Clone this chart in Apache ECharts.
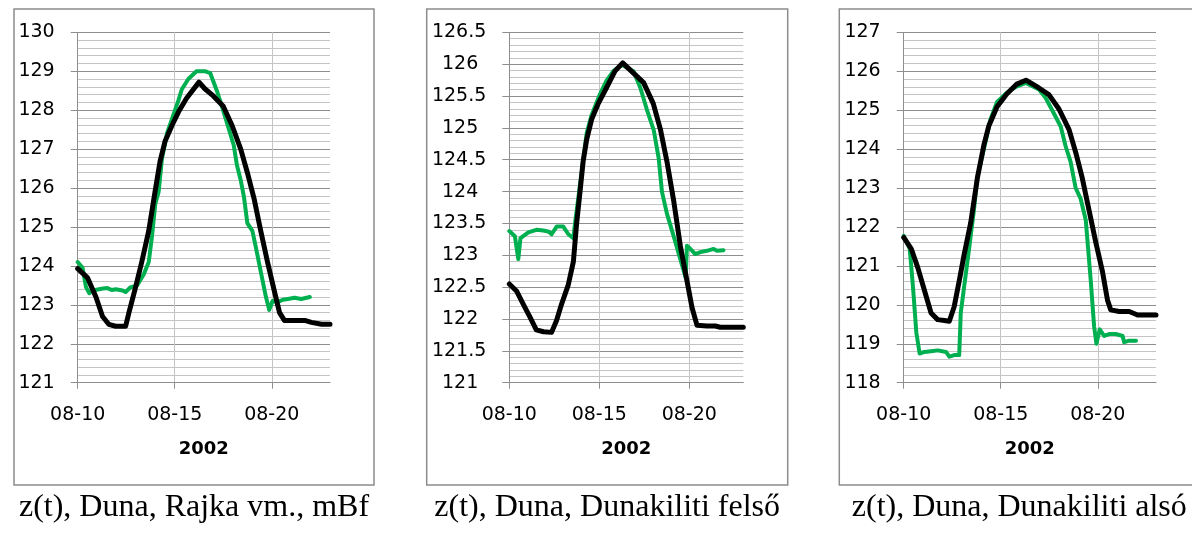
<!DOCTYPE html>
<html>
<head>
<meta charset="utf-8">
<script src="https://cdn.jsdelivr.net/npm/echarts@6/dist/echarts.min.js"></script>
<style>
  html, body { margin: 0; padding: 0; background: #fff; }
  #chart { width: 1192px; height: 542px; }
</style>
</head>
<body>
<div id="chart"></div>
<script>
// Water level z(t) [mBf] on the Danube, flood of August 2002.
// x = day of August (decimal), y = level. Green: measured, black: computed.

const xTickDays = [10, 15, 20];
const xLabelPrefix = '08-';
const xAxisTitle = '2002';

const captions = [
  'z(t), Duna, Rajka vm., mBf',
  'z(t), Duna, Dunakiliti felső',
  'z(t), Duna, Dunakiliti alsó'
];

// Rajka
const rajkaMeasured = [
  [10.0,124.1],[10.25,123.95],[10.43,123.45],[10.6,123.3],[10.77,123.37],[11.1,123.4],
  [11.3,123.42],[11.53,123.43],[11.75,123.38],[11.96,123.4],[12.3,123.37],[12.47,123.33],
  [12.72,123.45],[13.06,123.5],[13.4,123.78],[13.66,124.1],[13.83,124.77],[14.0,125.6],
  [14.17,125.9],[14.34,126.75],[14.6,127.4],[14.85,127.76],[15.19,128.25],[15.36,128.53],
  [15.7,128.8],[16.12,129.0],[16.55,129.0],[16.83,128.95],[17.17,128.5],[17.43,128.1],
  [17.7,127.66],[18.04,127.1],[18.2,126.6],[18.4,126.2],[18.57,125.76],[18.74,125.1],
  [19.0,124.9],[19.17,124.5],[19.43,123.86],[19.7,123.2],[19.87,122.87],[20.04,123.1],
  [20.3,123.07],[20.57,123.13],[20.83,123.15],[21.17,123.18],[21.52,123.15],[21.96,123.2]
];
const rajkaComputed = [
  [10.0,123.93],[10.5,123.7],[10.94,123.2],[11.28,122.7],[11.6,122.5],[11.96,122.45],
  [12.47,122.45],[12.64,122.8],[12.98,123.45],[13.3,124.1],[13.66,124.9],[14.0,125.95],
  [14.25,126.7],[14.5,127.2],[14.85,127.6],[15.19,127.95],[15.6,128.3],[16.25,128.72],
  [16.55,128.55],[17.0,128.36],[17.5,128.1],[17.96,127.6],[18.4,127.0],[18.74,126.4],
  [19.1,125.7],[19.43,124.9],[19.78,124.1],[20.13,123.36],[20.4,122.8],[20.65,122.6],
  [21.7,122.6],[22.04,122.55],[22.57,122.5],[23.0,122.5]
];

// Dunakiliti, upstream side
const felsoMeasured = [
  [10.0,123.38],[10.31,123.3],[10.5,122.94],[10.62,123.27],[11.06,123.36],[11.5,123.4],
  [11.89,123.39],[12.2,123.37],[12.35,123.33],[12.63,123.45],[13.0,123.45],[13.28,123.33],
  [13.56,123.27],[13.65,123.5],[13.93,124.11],[14.3,124.92],[14.57,125.2],[15.04,125.53],
  [15.4,125.74],[15.78,125.89],[16.24,125.99],[16.9,125.89],[17.28,125.63],[17.65,125.28],
  [18.02,124.97],[18.3,124.52],[18.48,124.0],[18.76,123.65],[19.13,123.3],[19.5,122.94],
  [19.8,122.65],[19.87,123.15],[20.06,123.1],[20.33,123.02],[20.61,123.05],[20.98,123.07],
  [21.35,123.1],[21.54,123.07],[21.9,123.08]
];
const felsoComputed = [
  [10.0,122.55],[10.4,122.44],[10.78,122.23],[11.15,122.03],[11.5,121.83],[11.9,121.8],
  [12.35,121.79],[12.63,121.98],[12.9,122.23],[13.28,122.54],[13.56,122.9],[13.74,123.5],
  [13.93,124.0],[14.1,124.47],[14.3,124.82],[14.57,125.13],[14.94,125.38],[15.4,125.63],
  [15.87,125.89],[16.3,126.02],[16.9,125.86],[17.46,125.71],[18.0,125.38],[18.4,124.97],
  [18.76,124.47],[19.13,123.86],[19.5,123.15],[19.87,122.6],[20.15,122.18],[20.43,121.9],
  [20.98,121.89],[21.44,121.89],[21.72,121.87],[23.0,121.87]
];

// Dunakiliti, downstream side
const alsoMeasured = [
  [10.0,121.77],[10.31,121.44],[10.48,120.45],[10.65,119.29],[10.82,118.75],[11.07,118.79],
  [11.41,118.81],[11.75,118.83],[12.18,118.79],[12.35,118.67],[12.6,118.71],[12.86,118.71],
  [12.94,119.79],[13.11,120.45],[13.37,121.44],[13.62,122.44],[13.79,123.27],[14.13,124.0],
  [14.47,124.76],[14.81,125.21],[15.32,125.45],[15.83,125.61],[16.3,125.7],[16.97,125.53],
  [17.31,125.32],[17.66,124.99],[18.09,124.58],[18.34,124.08],[18.6,123.67],[18.86,123.0],
  [19.12,122.72],[19.38,122.18],[19.64,120.61],[19.81,119.45],[19.93,119.0],[20.1,119.37],
  [20.33,119.2],[20.59,119.25],[20.93,119.25],[21.28,119.2],[21.36,119.04],[21.62,119.08],
  [21.97,119.08]
];
const alsoComputed = [
  [10.0,121.73],[10.39,121.44],[10.73,120.95],[11.07,120.37],[11.41,119.79],[11.75,119.62],
  [12.1,119.6],[12.35,119.58],[12.6,119.95],[12.86,120.61],[13.11,121.28],[13.45,122.1],
  [13.8,123.27],[14.13,124.1],[14.39,124.6],[14.81,125.09],[15.32,125.42],[15.83,125.67],
  [16.3,125.77],[16.97,125.57],[17.48,125.4],[18.0,125.03],[18.52,124.5],[18.86,123.92],
  [19.2,123.26],[19.55,122.43],[19.9,121.6],[20.24,120.86],[20.5,120.12],[20.67,119.87],
  [21.1,119.83],[21.62,119.83],[22.05,119.74],[23.0,119.74]
];

// y-axis ranges: [min, max, major step]
const yRanges = [[121, 130, 1], [121, 126.5, 0.5], [118, 127, 1]];
const xRange = [10, 23];

const panels = [
  { measured: rajkaMeasured, computed: rajkaComputed },
  { measured: felsoMeasured, computed: felsoComputed },
  { measured: alsoMeasured, computed: alsoComputed }
];

// layout (px)
const plotBoxes = [
  { left: 77.7, width: 252.3 },
  { left: 509.3, width: 234 },
  { left: 903.7, width: 252.3 }
];
const frameBoxes = [
  { x: 14, w: 360 },
  { x: 426.7, w: 361 },
  { x: 839.3, w: 360 }
];
const plotTop = 32.3, plotHeight = 350.4;

const GREEN = '#00b050';
const MAJOR = '#8e8e8e';
const MINOR = '#c4c4c4';
const FONT = 'DejaVu Sans';

// Integer labels on a half-unit axis sit a little left of the decimal ones.
function yLabelFormatter(step) {
  return v => (step < 1 && Number.isInteger(v)) ? '{i|' + v + '}' : String(v);
}

const grids = [], xAxes = [], yAxes = [], series = [];
panels.forEach((p, i) => {
  grids.push({ left: plotBoxes[i].left, width: plotBoxes[i].width, top: plotTop, height: plotHeight, containLabel: false });
  xAxes.push({
    type: 'value', gridIndex: i, min: xRange[0], max: xRange[1], interval: 1,
    name: xAxisTitle, nameLocation: 'middle', nameGap: 58,
    nameTextStyle: { fontFamily: FONT, fontSize: 18, fontWeight: 'bold', color: '#000' },
    axisLine: { show: true, lineStyle: { color: MAJOR, width: 1 } },
    axisTick: { show: true, length: 6, customValues: xTickDays, lineStyle: { color: MAJOR } },
    axisLabel: {
      customValues: xTickDays, margin: 23,
      fontFamily: FONT, fontSize: 19, color: '#000',
      formatter: v => xLabelPrefix + v
    },
    splitLine: { show: true, lineStyle: { color: [MAJOR, MINOR, MINOR, MINOR, MINOR], width: 1 } }
  });
  const r = yRanges[i];
  yAxes.push({
    type: 'value', gridIndex: i, min: r[0], max: r[1], interval: r[2],
    axisLine: { show: true, lineStyle: { color: MAJOR, width: 1 } },
    axisTick: { show: true, length: 7, lineStyle: { color: MAJOR } },
    axisLabel: {
      margin: 23, fontFamily: FONT, fontSize: 19, color: '#000',
      formatter: yLabelFormatter(r[2]),
      rich: { i: { fontFamily: FONT, fontSize: 19, color: '#000', padding: [0, 8, 0, 0] } }
    },
    splitLine: { show: true, lineStyle: { color: MAJOR, width: 1 } },
    minorTick: { show: false, splitNumber: 5 },
    minorSplitLine: { show: true, lineStyle: { color: MINOR, width: 1 } }
  });
  series.push({
    type: 'line', xAxisIndex: i, yAxisIndex: i, data: p.measured,
    showSymbol: false, lineStyle: { color: GREEN, width: 4, join: 'round', cap: 'round' }, z: 3, animation: false
  });
  series.push({
    type: 'line', xAxisIndex: i, yAxisIndex: i, data: p.computed,
    showSymbol: false, lineStyle: { color: '#000', width: 5, join: 'round', cap: 'round' }, z: 4, animation: false
  });
});

const graphic = [];
frameBoxes.forEach((b, i) => {
  graphic.push({
    type: 'rect', shape: { x: b.x, y: 9, width: b.w, height: 476 },
    style: { fill: 'none', stroke: '#8c8c8c', lineWidth: 1.5 }, silent: true
  });
  graphic.push({
    type: 'text', x: b.x + b.w / 2, y: 508,
    style: { text: captions[i], fill: '#000', font: '32px "Liberation Serif"', align: 'center', verticalAlign: 'middle' },
    silent: true
  });
});

const chart = echarts.init(document.getElementById('chart'), null, { renderer: 'canvas' });
chart.setOption({
  animation: false,
  backgroundColor: '#fff',
  grid: grids, xAxis: xAxes, yAxis: yAxes, series: series, graphic: graphic
});
</script>
</body>
</html>
